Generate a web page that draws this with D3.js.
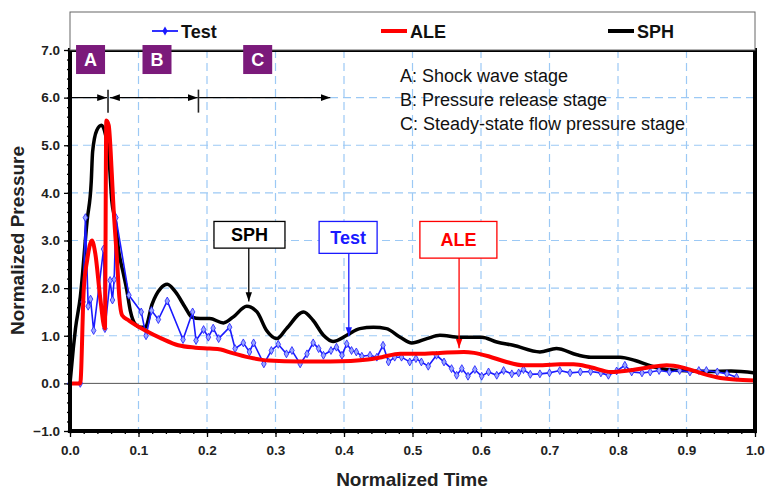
<!DOCTYPE html>
<html><head><meta charset="utf-8">
<script src="https://cdn.jsdelivr.net/npm/d3@7"></script>
<style>body{margin:0;background:#fff}svg{display:block;font-family:"Liberation Sans",Arial,sans-serif}</style>
</head><body><svg id="c" width="766" height="489"></svg>
<script>
// ---- data ----
const sphT=[0,0.005,0.008,0.015,0.025,0.031,0.033,0.039,0.046,0.052,0.057,0.061,0.066,0.071,0.078,0.083,0.088,0.095,0.103,0.110,0.120,0.132,0.142,0.154,0.168,0.178,0.19,0.204,0.224,0.238,0.258,0.273,0.287,0.302,0.316,0.341,0.355,0.370,0.384,0.404,0.423,0.443,0.462,0.482,0.499,0.521,0.540,0.569,0.601,0.623,0.647,0.686,0.71,0.74,0.76,0.803,0.825,0.847,0.871,0.905,0.934,0.965,1.0];
const sphP=[0,0.76,1.15,1.81,3.42,4.23,4.86,5.31,5.42,5.21,4.72,3.84,3.42,2.79,2.30,1.95,1.53,1.25,1.18,1.18,1.67,1.99,2.08,1.92,1.60,1.39,1.36,1.36,1.27,1.39,1.62,1.50,1.11,0.94,1.15,1.50,1.32,1.01,0.88,1.01,1.15,1.18,1.15,0.97,0.85,0.94,1.01,0.97,0.97,0.87,0.80,0.66,0.73,0.60,0.55,0.55,0.48,0.37,0.29,0.26,0.25,0.26,0.22];
const aleT=[0,0.015,0.020,0.025,0.032,0.037,0.044,0.051,0.053,0.0565,0.061,0.063,0.069,0.072,0.076,0.086,0.110,0.134,0.158,0.183,0.204,0.220,0.236,0.263,0.29,0.336,0.38,0.41,0.435,0.455,0.482,0.51,0.54,0.575,0.59,0.613,0.635,0.662,0.69,0.715,0.735,0.76,0.79,0.815,0.842,0.871,0.895,0.92,0.944,0.97,1.0];
const aleP=[0,0,1.95,2.58,3.0,2.72,1.81,1.15,5.52,5.42,4.41,3.83,2.51,1.81,1.43,1.32,1.11,0.94,0.80,0.75,0.73,0.71,0.64,0.54,0.48,0.46,0.46,0.47,0.50,0.55,0.62,0.62,0.64,0.66,0.64,0.56,0.46,0.38,0.38,0.40,0.40,0.34,0.24,0.27,0.33,0.38,0.33,0.22,0.13,0.08,0.06];
const testT=[0,0.015,0.019,0.0225,0.0265,0.030,0.0345,0.049,0.051,0.0585,0.062,0.0645,0.067,0.086,0.104,0.111,0.119,0.129,0.142,0.165,0.179,0.184,0.195,0.202,0.209,0.217,0.233,0.241,0.253,0.262,0.268,0.283,0.294,0.304,0.316,0.324,0.336,0.346,0.355,0.363,0.370,0.381,0.389,0.397,0.404,0.411,0.418,0.426,0.438,0.448,0.457,0.465,0.474,0.484,0.496,0.505,0.513,0.523,0.535,0.546,0.557,0.5645,0.572,0.581,0.591,0.601,0.611,0.623,0.633,0.645,0.655,0.662,0.672,0.686,0.700,0.715,0.73,0.745,0.76,0.775,0.786,0.798,0.81,0.82,0.835,0.847,0.86,0.875,0.89,0.905,0.918,0.929,0.945,0.959,0.973];
const testP=[0,0,1.71,3.48,1.62,1.77,1.11,2.82,1.15,2.16,1.75,2.18,3.48,1.85,1.50,1.00,1.53,1.34,1.73,0.92,1.50,0.90,1.13,0.97,1.16,0.94,1.18,0.73,0.85,0.66,0.85,0.41,0.69,0.82,0.62,0.69,0.41,0.62,0.85,0.73,0.59,0.69,0.76,0.59,0.83,0.69,0.66,0.57,0.59,0.55,0.80,0.45,0.55,0.55,0.45,0.52,0.45,0.36,0.59,0.45,0.31,0.17,0.31,0.15,0.29,0.15,0.24,0.17,0.27,0.20,0.22,0.29,0.19,0.20,0.22,0.27,0.22,0.24,0.25,0.22,0.17,0.26,0.38,0.24,0.22,0.24,0.27,0.24,0.27,0.24,0.27,0.27,0.24,0.20,0.13];
const xTicks=[0,0.1,0.2,0.3,0.4,0.5,0.6,0.7,0.8,0.9,1.0];
const yTicks=[-1,0,1,2,3,4,5,6,7];
const seriesNames=["Test","ALE","SPH"];
const stageLabels=["A","B","C"];
const stageText=["A: Shock wave stage","B: Pressure release stage","C: Steady-state flow pressure stage"];

// ---- layout ----
const svg=d3.select("#c");
const L=70,R=755,T=50,B=431;
const x=d3.scaleLinear().domain([0,1]).range([L,R]);
const y=d3.scaleLinear().domain([-1,7]).range([B,T]);
const blue="#1a1aff",red="#ff0000",purple="#7b1a7b";

svg.append("defs").html(`
<marker id="ak" viewBox="0 0 10 10" refX="10" refY="5" markerWidth="7" markerHeight="7" orient="auto-start-reverse"><path d="M0,1.5L10,5L0,8.5z" fill="#000"/></marker>
<marker id="ab" viewBox="0 0 10 10" refX="10" refY="5" markerWidth="7" markerHeight="7" orient="auto"><path d="M0,1.5L10,5L0,8.5z" fill="${blue}"/></marker>
<marker id="ar" viewBox="0 0 10 10" refX="10" refY="5" markerWidth="7" markerHeight="7" orient="auto"><path d="M0,1.5L10,5L0,8.5z" fill="${red}"/></marker>`);

// grid
const g=svg.append("g");
xTicks.slice(1,-1).forEach(t=>g.append("line").attr("x1",x(t)).attr("x2",x(t)).attr("y1",T).attr("y2",B)
  .attr("stroke","#9cc9f5").attr("stroke-width",1.2).attr("stroke-dasharray","8,5"));
yTicks.filter(v=>v>-1&&v<7&&v!==0).forEach(v=>g.append("line").attr("x1",L).attr("x2",R).attr("y1",y(v)).attr("y2",y(v))
  .attr("stroke","#9cc9f5").attr("stroke-width",1.2).attr("stroke-dasharray","8,5"));
g.append("line").attr("x1",L).attr("x2",R).attr("y1",y(0)).attr("y2",y(0)).attr("stroke","#555").attr("stroke-width",1);

// axes
const yAxis=d3.axisLeft(y).tickValues(yTicks).tickFormat(d3.format(".1f")).tickSize(6).tickPadding(4);
const yMinor=d3.axisLeft(y).tickValues(d3.range(-1,7.001,0.2)).tickFormat("").tickSize(3);
const xAxis=d3.axisBottom(x).tickValues(xTicks).tickFormat(d3.format(".1f")).tickSize(6).tickPadding(8);
const xMinor=d3.axisBottom(x).tickValues(d3.range(0,1.001,0.02)).tickFormat("").tickSize(3);
[yAxis,yMinor].forEach(a=>svg.append("g").attr("transform",`translate(${L},0)`).call(a));
[xAxis,xMinor].forEach(a=>svg.append("g").attr("transform",`translate(0,${B})`).call(a));
svg.selectAll(".domain").remove();
svg.selectAll(".tick line").attr("stroke","#000").attr("stroke-width",1.3);
svg.selectAll(".tick text").attr("font-family","Liberation Sans, Arial").attr("font-weight","bold").attr("font-size",13.5).attr("fill","#222");

// series
const mk=(ts,ps)=>ts.map((t,i)=>[t,ps[i]]);
const sph=mk(sphT,sphP),ale=mk(aleT,aleP),test=mk(testT,testP);
svg.append("path").datum(sph).attr("d",d3.line().x(d=>x(d[0])).y(d=>y(d[1])).curve(d3.curveMonotoneX)).attr("fill","none").attr("stroke","#000").attr("stroke-width",3.5).attr("stroke-linejoin","round");
svg.append("path").datum(test).attr("d",d3.line().x(d=>x(d[0])).y(d=>y(d[1]))).attr("fill","none").attr("stroke",blue).attr("stroke-width",1.6);
svg.selectAll(".tm").data(test).enter().append("path").attr("d",d3.symbol(d3.symbolDiamond,18))
  .attr("transform",d=>`translate(${x(d[0])},${y(d[1])})`).attr("fill","#9aa6ff").attr("stroke",blue).attr("stroke-width",0.8);
svg.append("path").datum(ale).attr("d",d3.line().x(d=>x(d[0])).y(d=>y(d[1])).curve(d3.curveMonotoneX)).attr("fill","none").attr("stroke",red).attr("stroke-width",4).attr("stroke-linejoin","round");

// border
svg.append("rect").attr("x",L).attr("y",T).attr("width",R-L).attr("height",B-T).attr("fill","none").attr("stroke","#000").attr("stroke-width",4);

// legend
svg.append("rect").attr("x",L).attr("y",12).attr("width",R-L).attr("height",T-12).attr("fill","#fff").attr("stroke","#666").attr("stroke-width",1);
const legX=[152,381,608],legC=[blue,red,"#000"],legW=[1.8,4,4];
seriesNames.forEach((n,i)=>{
  svg.append("line").attr("x1",legX[i]).attr("x2",legX[i]+26).attr("y1",31).attr("y2",31).attr("stroke",legC[i]).attr("stroke-width",legW[i]);
  if(i===0) svg.append("path").attr("d",d3.symbol(d3.symbolDiamond,24)).attr("transform",`translate(${legX[i]+13},31)`).attr("fill",blue);
  svg.append("text").attr("x",legX[i]+29).attr("y",37.5).text(n).attr("font-weight","bold").attr("font-size",18).attr("fill","#111");
});

// stage boxes and arrows
const stageX=[0.030,0.127,0.274];
stageLabels.forEach((s,i)=>{
  svg.append("rect").attr("x",x(stageX[i])-14.5).attr("y",y(6.8)-14.5).attr("width",29).attr("height",29).attr("fill",purple);
  svg.append("text").attr("x",x(stageX[i])).attr("y",y(6.8)+6.5).attr("text-anchor","middle").text(s).attr("fill","#fff").attr("font-weight","bold").attr("font-size",18);
});
const b1=0.0555,b2=0.1875,cEnd=0.38;
const ar=(t1,t2,start)=>{const l=svg.append("line").attr("x1",x(t1)).attr("x2",x(t2)).attr("y1",y(6)).attr("y2",y(6)).attr("stroke","#000").attr("stroke-width",1.4).attr("marker-end","url(#ak)");if(start)l.attr("marker-start","url(#ak)");};
ar(0,b1-0.0015,false); ar(b1+0.003,b2-0.001,true); ar(b2+0.001,cEnd,false);
[b1,b2].forEach(b=>svg.append("line").attr("x1",x(b)).attr("x2",x(b)).attr("y1",y(6)-8).attr("y2",y(6)+15).attr("stroke","#222").attr("stroke-width",1.6));
stageText.forEach((s,i)=>svg.append("text").attr("x",400).attr("y",81.5+i*24).text(s).attr("font-size",18).attr("fill","#111"));

// callouts
const calls=[{n:"SPH",c:"#000",m:"ak",bx:0.262,bw:71,top:3.40,bot:2.84,tip:[0.261,1.72]},
             {n:"Test",c:blue,m:"ab",bx:0.406,bw:58,top:3.40,bot:2.73,tip:[0.407,0.99]},
             {n:"ALE",c:red,m:"ar",bx:0.567,bw:77,top:3.40,bot:2.63,tip:[0.568,0.74]}];
calls.forEach(c=>{
  svg.append("rect").attr("x",x(c.bx)-c.bw/2).attr("y",y(c.top)).attr("width",c.bw).attr("height",y(c.bot)-y(c.top)).attr("fill","#fff").attr("stroke",c.c).attr("stroke-width",1.3);
  svg.append("text").attr("x",x(c.bx)).attr("y",(y(c.top)+y(c.bot))/2+6.5).attr("text-anchor","middle").text(c.n).attr("fill",c.c).attr("font-weight","bold").attr("font-size",18);
  svg.append("line").attr("x1",x(c.tip[0])).attr("x2",x(c.tip[0])).attr("y1",y(c.bot)).attr("y2",y(c.tip[1])).attr("stroke",c.c).attr("stroke-width",1.3).attr("marker-end",`url(#${c.m})`);
});

// axis titles
svg.append("text").attr("x",412).attr("y",486).attr("text-anchor","middle").text("Normalized Time").attr("font-weight","bold").attr("font-size",19).attr("fill","#222");
svg.append("text").attr("transform",`translate(24,${y(3)}) rotate(-90)`).attr("text-anchor","middle").text("Normalized Pressure").attr("font-weight","bold").attr("font-size",19).attr("fill","#222");
</script></body></html>
